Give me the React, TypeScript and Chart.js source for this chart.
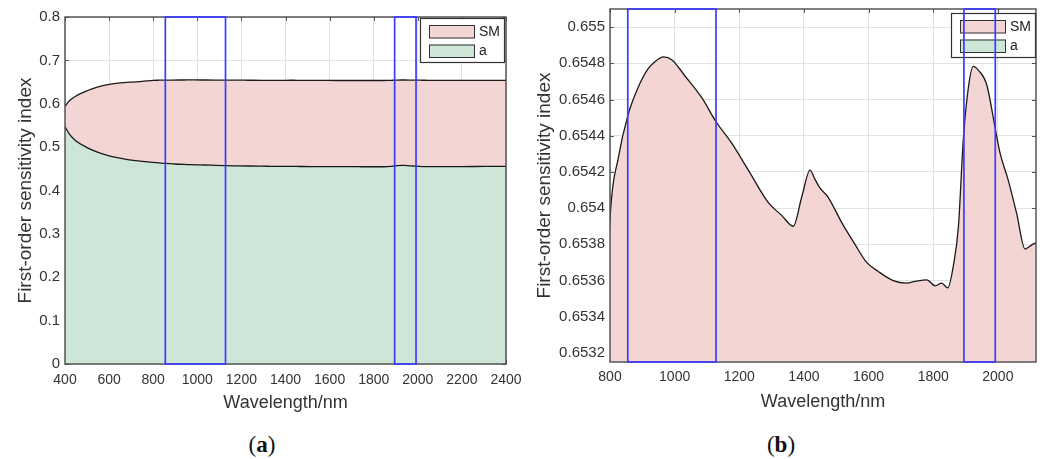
import React, { useEffect, useRef } from "react";
import { Chart, registerables } from "chart.js";

Chart.register(...registerables);

// ---------- data ----------
const wavelengths = [
  400, 420, 450, 500, 550, 600, 650, 700, 750, 800, 826, 855, 888, 918, 940, 965, 991,
  1032, 1084, 1127, 1176, 1228, 1290, 1331, 1367, 1393, 1419, 1434, 1450, 1475, 1517,
  1558, 1594, 1630, 1676, 1718, 1744, 1780, 1806, 1826, 1845, 1862, 1878, 1893, 1909,
  1924, 1940, 1966, 1991, 2007, 2032, 2058, 2084, 2105, 2118, 2200, 2300, 2400,
];

// upper boundary of the stacked "SM" area (first-order index, cumulative)
const smValues = [
  0.594, 0.607, 0.618, 0.63, 0.639, 0.6445, 0.648, 0.65, 0.6515, 0.65394, 0.65428,
  0.65451, 0.65467, 0.65477, 0.65481, 0.654835, 0.65482, 0.65473, 0.65461, 0.65448,
  0.65436, 0.65421, 0.65403, 0.65396, 0.6539, 0.65406, 0.65421, 0.65416, 0.65411,
  0.65406, 0.65392, 0.6538, 0.6537, 0.65365, 0.6536, 0.653586, 0.653595, 0.653604,
  0.653571, 0.653586, 0.653559, 0.653678, 0.653898, 0.654376, 0.654669, 0.654783,
  0.654761, 0.654679, 0.654449, 0.654302, 0.654155, 0.653972, 0.653774, 0.653797,
  0.653806, 0.6538, 0.6538, 0.6538,
];

const aValues = [
  0.547, 0.53, 0.514, 0.499, 0.488, 0.48, 0.4745, 0.47, 0.467, 0.4648, 0.4637, 0.4625,
  0.4615, 0.4605, 0.46, 0.4597, 0.4592, 0.4588, 0.458, 0.4575, 0.457, 0.4565, 0.456,
  0.4558, 0.4556, 0.4555, 0.4555, 0.4554, 0.4554, 0.4553, 0.4552, 0.4551, 0.455, 0.455,
  0.4549, 0.4549, 0.4548, 0.4548, 0.4548, 0.4548, 0.4548, 0.455, 0.4555, 0.4565, 0.4575,
  0.458, 0.4578, 0.457, 0.456, 0.4555, 0.4552, 0.455, 0.455, 0.455, 0.455, 0.4552,
  0.4555, 0.4558,
];

const seriesLabels = ["SM", "a"];

const xTicksA = [400, 600, 800, 1000, 1200, 1400, 1600, 1800, 2000, 2200, 2400];
const yTicksA = [0, 0.1, 0.2, 0.3, 0.4, 0.5, 0.6, 0.7, 0.8];
const xTicksB = [800, 1000, 1200, 1400, 1600, 1800, 2000];
const yTicksB = [0.6532, 0.6534, 0.6536, 0.6538, 0.654, 0.6542, 0.6544, 0.6546, 0.6548, 0.655];

const bandStarts = [855, 1895];
const bandEnds = [1128, 1992];

// ---------- style ----------
const PINK = "#f3d6d3";
const GREEN = "#cde6d7";
const SANS = '"Liberation Sans", Arial, Helvetica, sans-serif';
const TEXT = "#333333";
const GRID = "#e2e2e2";

function decorPlugin(legendDx: number, legendDy: number) {
  return {
    id: "decor",
    beforeDatasetsDraw(chart: any) {
      const { ctx, chartArea: a, scales } = chart;
      const xs = scales.x;
      const ys = scales.y;
      ctx.save();
      ctx.strokeStyle = "#555";
      ctx.lineWidth = 1;
      ctx.beginPath();
      xs.ticks.forEach((t: any) => {
        const px = Math.round(xs.getPixelForValue(t.value)) + 0.5;
        ctx.moveTo(px, a.bottom);
        ctx.lineTo(px, a.bottom - 4);
        ctx.moveTo(px, a.top);
        ctx.lineTo(px, a.top + 4);
      });
      ys.ticks.forEach((t: any) => {
        const py = Math.round(ys.getPixelForValue(t.value)) + 0.5;
        ctx.moveTo(a.left, py);
        ctx.lineTo(a.left + 4, py);
        ctx.moveTo(a.right, py);
        ctx.lineTo(a.right - 4, py);
      });
      ctx.stroke();
      ctx.restore();
    },
    afterDatasetsDraw(chart: any) {
      const { ctx, chartArea: a, scales } = chart;
      const xs = scales.x;
      ctx.save();
      // axes box
      ctx.strokeStyle = "#4a4a4a";
      ctx.lineWidth = 1.4;
      ctx.strokeRect(a.left, a.top, a.right - a.left, a.bottom - a.top);

      // legend
      const w = 85;
      const h = 45;
      const bx = a.right + legendDx - w;
      const by = a.top + legendDy;
      ctx.fillStyle = "#ffffff";
      ctx.fillRect(bx, by, w, h);
      ctx.strokeStyle = "#333";
      ctx.lineWidth = 1.2;
      ctx.strokeRect(bx + 0.5, by + 0.5, w - 1, h - 1);
      const colors = [PINK, GREEN];
      const rows = [7, 26.5];
      seriesLabels.forEach((lab, i) => {
        ctx.fillStyle = colors[i];
        ctx.fillRect(bx + 9, by + rows[i], 46, 13.5);
        ctx.strokeStyle = "#333";
        ctx.lineWidth = 1;
        ctx.strokeRect(bx + 9.5, by + rows[i] + 0.5, 45, 12.5);
        ctx.fillStyle = "#222";
        ctx.font = `14px ${SANS}`;
        ctx.textBaseline = "middle";
        ctx.textAlign = "left";
        ctx.fillText(lab, bx + 59, by + rows[i] + 7);
      });

      // highlighted wavelength bands
      ctx.strokeStyle = "#3c3cff";
      ctx.lineWidth = 1.7;
      bandStarts.forEach((s, i) => {
        const x0 = xs.getPixelForValue(s);
        const x1 = xs.getPixelForValue(bandEnds[i]);
        ctx.strokeRect(x0, a.top, x1 - x0, a.bottom - a.top);
      });
      ctx.restore();
    },
  };
}

function buildConfig(opts: {
  xMin: number;
  xMax: number;
  yMin: number;
  yMax: number;
  xTicks: number[];
  yTicks: number[];
  yDigits: number;
  yAxisWidth: number;
  xAxisHeight: number;
  padding: { left: number; top: number; right: number; bottom: number };
  xTickPad: number;
  xTitlePad: number;
  yTitlePad: number;
  legendDx: number;
  legendDy: number;
}): any {
  const aData = wavelengths.map((w, i) => ({ x: w, y: aValues[i] }));
  const smData = wavelengths.map((w, i) => ({ x: w, y: smValues[i] }));
  return {
    type: "line",
    data: {
      datasets: [
        {
          label: seriesLabels[1],
          data: aData,
          fill: "origin",
          backgroundColor: GREEN,
          borderColor: "#1a1a1a",
          borderWidth: 1.3,
          pointRadius: 0,
          cubicInterpolationMode: "monotone",
        },
        {
          label: seriesLabels[0],
          data: smData,
          fill: "-1",
          backgroundColor: PINK,
          borderColor: "#1a1a1a",
          borderWidth: 1.3,
          pointRadius: 0,
          cubicInterpolationMode: "monotone",
        },
      ],
    },
    options: {
      animation: false,
      responsive: false,
      maintainAspectRatio: false,
      devicePixelRatio: 1,
      layout: { padding: opts.padding },
      plugins: {
        legend: { display: false },
        tooltip: { enabled: false },
      },
      scales: {
        x: {
          type: "linear",
          min: opts.xMin,
          max: opts.xMax,
          afterBuildTicks: (ax: any) => {
            ax.ticks = opts.xTicks.map((v) => ({ value: v }));
          },
          afterFit: (s: any) => {
            s.height = opts.xAxisHeight;
            s.paddingLeft = 0;
            s.paddingRight = 0;
          },
          ticks: {
            autoSkip: false,
            maxRotation: 0,
            minRotation: 0,
            padding: opts.xTickPad,
            color: TEXT,
            font: { family: SANS, size: 14 },
            callback: (v: any) => String(v),
          },
          grid: { color: GRID, lineWidth: 1, drawTicks: false },
          border: { display: false },
          title: {
            display: true,
            text: "Wavelength/nm",
            color: TEXT,
            font: { family: SANS, size: 18 },
            padding: { top: 0, bottom: opts.xTitlePad },
          },
        },
        y: {
          type: "linear",
          min: opts.yMin,
          max: opts.yMax,
          afterBuildTicks: (ax: any) => {
            ax.ticks = opts.yTicks.map((v) => ({ value: v }));
          },
          afterFit: (s: any) => {
            s.width = opts.yAxisWidth;
            s.paddingTop = 0;
            s.paddingBottom = 0;
          },
          ticks: {
            autoSkip: false,
            padding: 5,
            color: TEXT,
            font: { family: SANS, size: 15 },
            callback: (v: any) => String(Number(Number(v).toFixed(opts.yDigits))),
          },
          grid: { color: GRID, lineWidth: 1, drawTicks: false },
          border: { display: false },
          title: {
            display: true,
            text: "First-order sensitivity index",
            color: TEXT,
            font: { family: SANS, size: 19 },
            padding: { top: opts.yTitlePad, bottom: 0 },
          },
        },
      },
    },
    plugins: [decorPlugin(opts.legendDx, opts.legendDy)],
  };
}

export default function App() {
  const refA = useRef<HTMLCanvasElement | null>(null);
  const refB = useRef<HTMLCanvasElement | null>(null);

  useEffect(() => {
    const chartA = new Chart(
      refA.current as HTMLCanvasElement,
      buildConfig({
        xMin: 400,
        xMax: 2400,
        yMin: 0,
        yMax: 0.8,
        xTicks: xTicksA,
        yTicks: yTicksA,
        yDigits: 1,
        yAxisWidth: 65,
        xAxisHeight: 61,
        padding: { left: 0, top: 17, right: 34, bottom: 0 },
        xTickPad: 8,
        xTitlePad: 11,
        yTitlePad: 14,
        legendDx: -1,
        legendDy: 1,
      })
    );
    const chartB = new Chart(
      refB.current as HTMLCanvasElement,
      buildConfig({
        xMin: 800,
        xMax: 2118,
        yMin: 0.65315,
        yMax: 0.6551,
        xTicks: xTicksB,
        yTicks: yTicksB,
        yDigits: 4,
        yAxisWidth: 90,
        xAxisHeight: 63,
        padding: { left: 0, top: 9, right: 4, bottom: 0 },
        xTickPad: 7,
        xTitlePad: 12,
        yTitlePad: 13.5,
        legendDx: 0,
        legendDy: 4,
      })
    );
    return () => {
      chartA.destroy();
      chartB.destroy();
    };
  }, []);

  const caption: React.CSSProperties = {
    position: "absolute",
    top: 431,
    width: 60,
    textAlign: "center",
    fontFamily: '"Liberation Serif", "Times New Roman", serif',
    fontSize: 23,
    lineHeight: "28px",
    color: "#111",
  };

  return (
    <div
      style={{
        position: "absolute",
        left: 0,
        top: 0,
        width: 1040,
        height: 459,
        background: "#ffffff",
        overflow: "hidden",
      }}
    >
      <canvas
        ref={refA}
        width={540}
        height={425}
        style={{ position: "absolute", left: 0, top: 0, width: 540, height: 425 }}
      />
      <canvas
        ref={refB}
        width={520}
        height={425}
        style={{ position: "absolute", left: 520, top: 0, width: 520, height: 425 }}
      />
      <div style={{ ...caption, left: 262 - 30 }}>
        (<b>a</b>)
      </div>
      <div style={{ ...caption, left: 781 - 30 }}>
        (<b>b</b>)
      </div>
    </div>
  );
}
